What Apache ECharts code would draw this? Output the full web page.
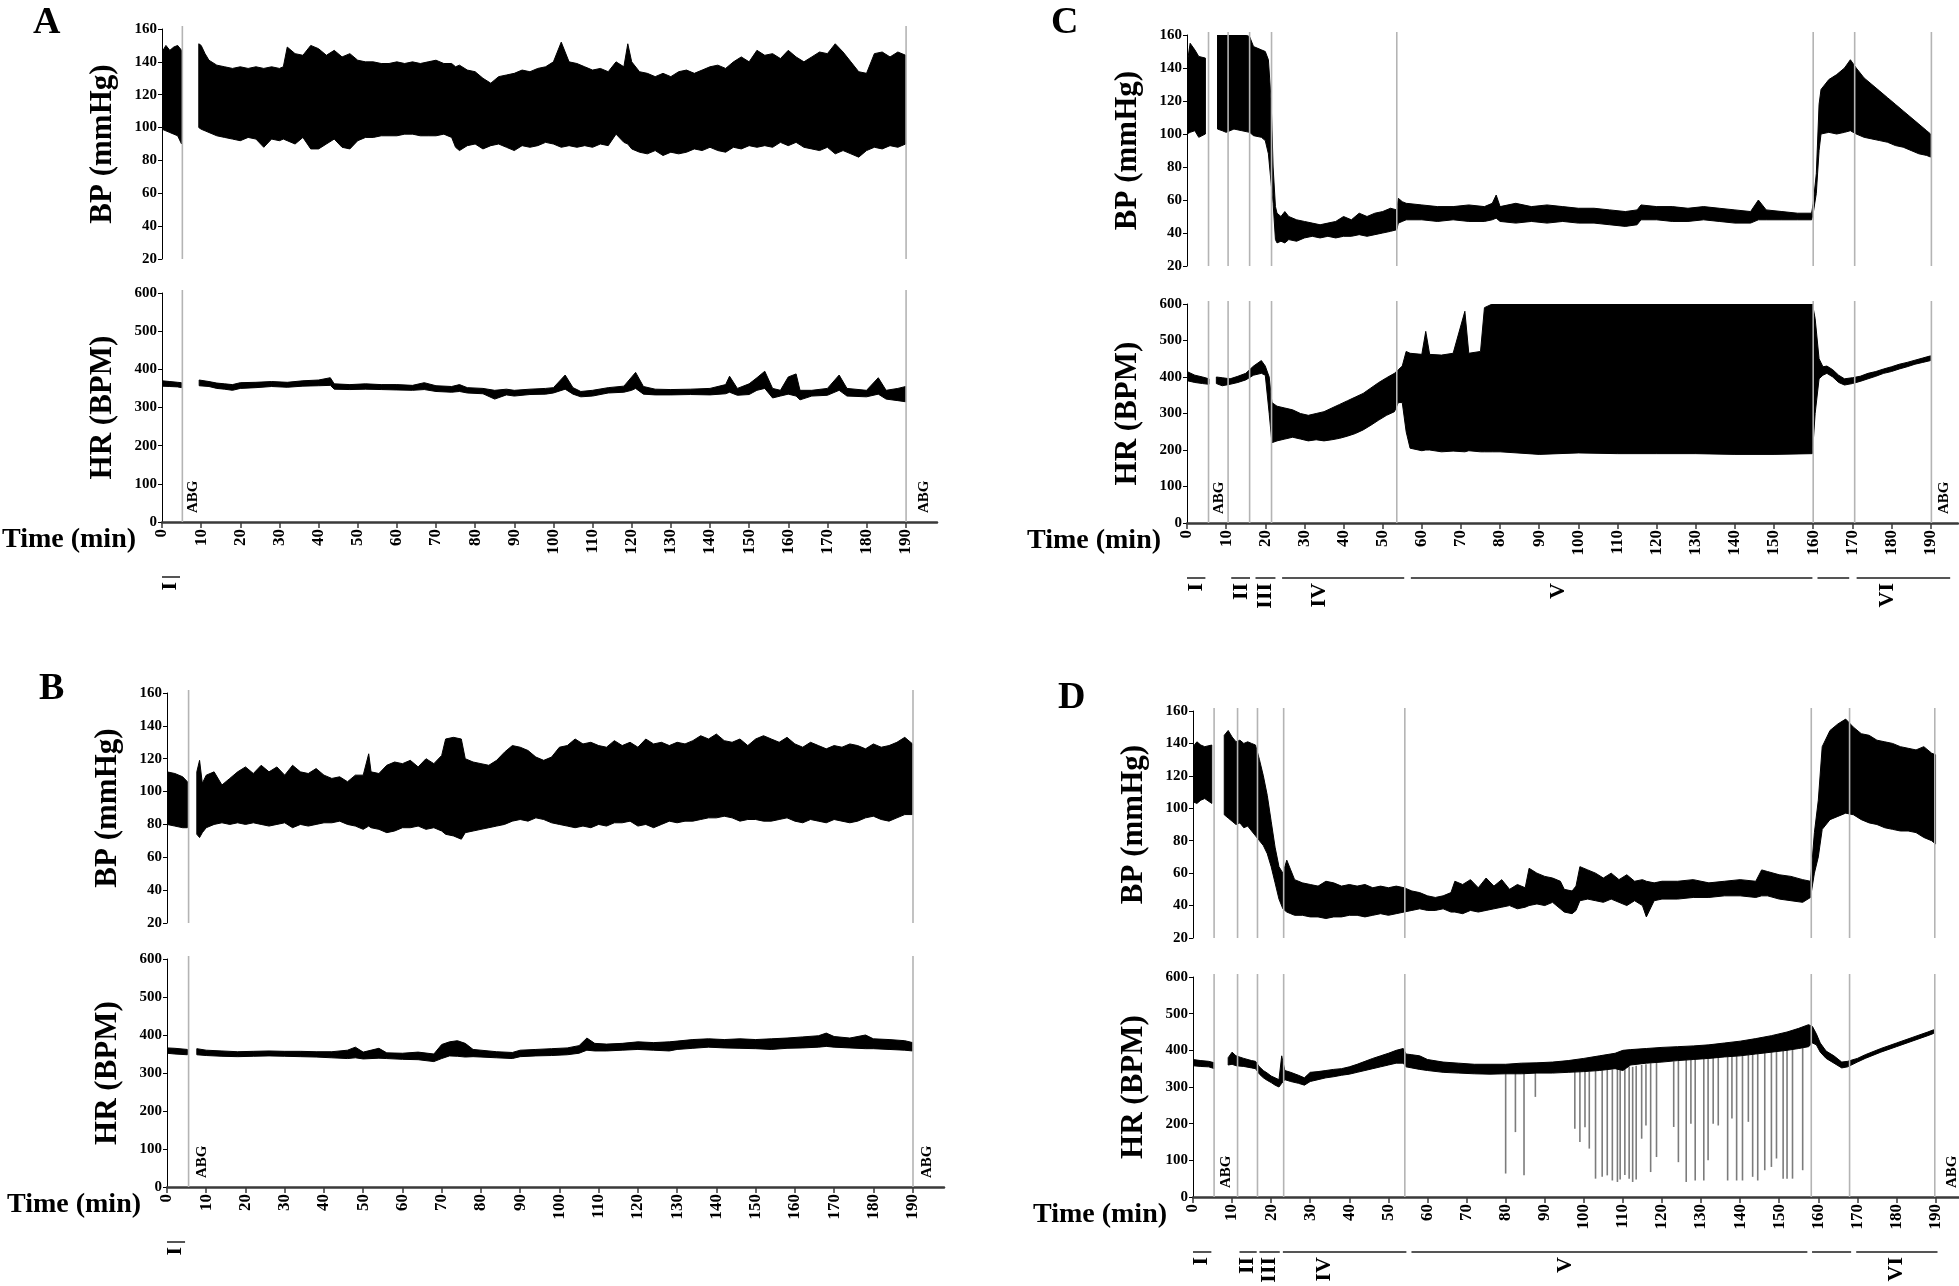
<!DOCTYPE html>
<html lang="en">
  <head>
    <meta charset="UTF-8" />
    <title>BP / HR traces</title>
    <script src="https://cdn.jsdelivr.net/npm/echarts@6/dist/echarts.min.js"></script>
    <style>
      body { margin: 0; background: #fff; }
      #main { width: 1959px; height: 1286px; }
    </style>
  </head>
  <body>
    <div id="main"></div>
    <script type="text/javascript">
      // tick labels of the time axis (min)
      const timeTicks = [0, 10, 20, 30, 40, 50, 60, 70, 80, 90, 100, 110, 120, 130, 140, 150, 160, 170, 180, 190];

      // rows are [time (min), low, high]; null = gap in the recording
      const bpA = [
        [0,99,146],[1,98,150],[2,97,147],[3,96,149],[4,95,150],[5,90,147],null,
        [9.4,100,151],[10,99,150],[11,98,145],[12,97,141],[14,95,138],[16,94,137],[18,93,136],[20,92,137],
        [22,94,136],[24,93,137],[26,88,136],[28,93,137],[30,92,136],[31,93,137],[32,92,149],[34,90,145],
        [36,94,144],[38,87,150],[40,87,148],[42,90,144],[44,93,147],[46,88,143],[48,87,145],[50,92,141],
        [52,94,140],[54,94,140],[56,95,139],[58,95,139],[60,95,140],[62,96,139],[64,96,140],[66,95,139],
        [68,95,140],[70,95,141],[72,96,139],[74,94,139],[75,88,137],[76,86,138],[78,89,135],[80,90,134],
        [82,87,130],[84,89,127],[86,90,131],[88,88,132],[90,86,133],[92,89,135],[94,88,134],[96,89,136],
        [98,91,137],[100,90,140],[102,88,152],[104,89,140],[106,88,139],[108,89,137],[110,88,135],[112,90,136],
        [114,89,134],[116,96,140],[118,91,137],[119,90,151],[120,87,140],[122,85,134],[124,84,133],[126,86,131],
        [128,83,133],[130,85,131],[132,84,134],[134,85,135],[136,87,133],[138,86,135],[140,88,137],[142,86,138],
        [144,85,136],[146,88,140],[148,87,143],[150,89,140],[152,88,147],[154,89,144],[156,88,145],[158,91,142],
        [160,89,147],[162,91,143],[164,88,140],[166,87,143],[168,86,146],[170,88,145],[172,84,151],[174,86,146],
        [176,84,140],[178,82,134],[180,86,133],[182,88,145],[184,87,146],[186,89,143],[188,88,146],[190,90,144]
      ];
      const hrA = [
        [0,356,370],[2,355,368],[4,354,366],[5,352,365],null,
        [9.5,357,372],[12,355,368],[14,350,364],[16,348,362],[18,345,360],[20,350,365],[24,352,366],[28,355,368],
        [32,353,366],[36,356,370],[40,357,372],[43,358,378],[44,348,362],[48,347,360],[52,348,362],[56,347,360],
        [60,346,360],[64,345,358],[67,347,365],[70,342,357],[74,340,355],[76,342,360],[78,338,352],[82,336,350],
        [85,322,345],[88,333,348],[90,330,345],[94,334,348],[98,335,350],[100,338,352],[103,348,385],[105,335,352],
        [107,328,342],[110,330,345],[114,338,352],[118,340,356],[120,345,380],[121,350,392],[123,335,355],[126,333,348],
        [130,333,347],[135,334,348],[140,333,350],[144,336,360],[145,340,382],[147,332,350],[150,334,362],[152,345,378],
        [154,350,395],[156,325,350],[158,330,345],[160,335,380],[162,330,388],[163,320,345],[166,330,345],[170,332,350],
        [173,345,385],[175,330,350],[180,328,345],[183,335,378],[185,322,345],[188,318,350],[190,315,355]
      ];

      const bpB = [
        [0,80,112],[2,79,111],[4,78,109],[5.2,78,106],null,
        [7.6,74,112],[8.3,72,119],[9,75,105],[10,78,110],[12,80,112],[14,81,104],[16,80,108],[18,81,112],
        [20,80,115],[22,81,111],[24,80,116],[26,79,112],[28,80,115],[30,81,110],[32,78,116],[34,80,112],
        [36,79,111],[38,80,114],[40,81,110],[42,81,108],[44,82,109],[46,80,106],[48,79,110],[50,77,110],
        [51.4,79,123],[52,78,112],[54,77,111],[56,75,116],[58,76,118],[60,78,117],[62,78,119],[64,79,115],
        [66,77,120],[68,78,117],[70,76,122],[71,74,132],[73,73,133],[75,71,132],[76,75,120],[78,76,118],
        [80,77,117],[82,78,116],[84,79,119],[86,80,124],[88,82,128],[90,83,127],[92,82,125],[94,84,121],
        [96,83,119],[98,81,121],[100,80,127],[102,79,128],[104,78,132],[106,79,129],[108,78,130],[110,80,128],
        [112,79,127],[114,81,131],[116,81,128],[118,82,130],[120,79,127],[122,80,132],[124,78,129],[126,80,130],
        [128,82,128],[130,81,130],[132,82,129],[134,82,131],[136,83,134],[138,84,132],[140,84,135],[142,85,131],
        [144,84,130],[146,82,132],[148,83,128],[150,83,132],[152,82,134],[154,82,132],[156,83,130],[158,84,133],
        [160,82,129],[162,81,127],[164,83,130],[166,82,128],[168,81,126],[170,83,128],[172,82,127],[174,81,129],
        [176,82,128],[178,84,126],[180,85,129],[182,83,127],[184,82,128],[186,84,130],[188,86,133],[190,86,129]
      ];
      const hrB = [
        [0,352,366],[2,350,365],[5.2,348,362],null,
        [7.6,348,364],[10,346,360],[14,344,358],[18,343,356],[22,344,357],[26,345,358],[30,344,357],[34,343,357],
        [38,342,356],[42,340,356],[46,338,360],[48,340,368],[50,337,355],[54,339,365],[56,338,353],[60,336,352],
        [64,335,355],[68,330,350],[70,338,375],[72,345,382],[74,344,385],[76,342,378],[78,343,362],[80,342,360],
        [84,340,356],[88,338,354],[90,343,360],[94,345,362],[98,346,364],[102,348,366],[105,352,372],[107,360,392],
        [109,358,378],[112,358,376],[116,360,378],[120,362,382],[124,360,380],[128,358,382],[130,362,384],[134,365,388],
        [138,368,390],[142,366,388],[146,365,390],[150,364,388],[154,362,390],[158,365,392],[162,366,395],[166,368,398],
        [168,370,405],[170,368,396],[174,366,392],[178,364,400],[180,364,390],[184,362,388],[188,360,385],[190,358,380]
      ];

      const bpC = [
        [0,100,142],[0.8,101,155],[2,102,151],[3,98,147],[4.7,100,146],null,
        [7.8,103,160],[9,102,161],[10,101,160],[12,103,161],[14,102,161],[16,101,159],[17,99,153],[19,98,151],
        [20,96,150],[20.8,88,145],[21.5,70,120],[22,58,80],[22.6,36,56],[23,34,52],[24,35,50],[25,34,53],
        [26,36,50],[28,35,48],[30,37,47],[32,38,46],[34,37,45],[36,38,46],[38,37,47],[40,38,50],[42,38,48],
        [44,39,52],[46,38,50],[48,39,52],[50,40,53],[52,41,55],[53.6,42,54],[54,46,61],[55,47,59],[56,48,58],
        [60,48,57],[64,47,56],[68,48,56],[72,47,57],[76,47,56],[78,48,58],[79,49,63],[80,47,56],[84,46,58],
        [88,47,56],[92,46,57],[96,47,56],[100,46,55],[104,46,55],[108,45,54],[112,44,53],[115,45,54],[116,48,57],
        [120,48,56],[124,47,56],[128,47,55],[132,48,56],[136,47,55],[140,46,54],[144,46,53],[146,48,60],[148,48,54],
        [152,48,53],[156,48,52],[159.6,48,52],[160,52,58],[160.8,64,76],[161.5,90,118],[162,100,127],[164,101,133],
        [166,100,136],[168,101,140],[169.5,102,145],[171,100,140],[173,98,134],[175,97,130],[177,96,126],[179,95,122],
        [181,93,118],[183,92,114],[185,90,110],[187,88,106],[189,87,102],[190,86,100]
      ];
      const hrC = [
        [0,390,415],[2,385,405],[4,382,400],[5.6,380,395],null,
        [7.5,382,400],[9,376,398],[11,380,395],[13,385,402],[15,392,410],[17,405,430],[19,410,445],[20,405,430],
        [21,300,400],[21.7,220,330],[23,225,320],[25,230,315],[27,235,310],[29,230,300],[31,225,295],[33,228,300],
        [35,225,305],[37,228,315],[39,232,325],[41,238,335],[43,245,345],[45,255,355],[47,268,370],[49,282,385],
        [51,295,398],[53,305,410],[54,330,420],[55,330,430],[56,250,470],[57,205,465],[60,198,462],[61,200,525],
        [62,200,462],[65,195,460],[68,197,465],[71,195,580],[72,198,465],[75,195,470],[76,195,590],[78,195,600],
        [80,195,600],[90,188,600],[100,192,600],[110,190,600],[120,190,600],[130,190,600],[140,188,600],[150,188,600],
        [159.8,190,600],[160.5,300,560],[161.5,395,450],[162.5,405,428],[163.5,410,430],[165,400,420],[166.5,385,405],
        [168,378,395],[170,382,398],[172,388,402],[174,395,410],[176,402,415],[178,410,422],[180,415,428],
        [182,422,435],[184,428,440],[186,435,446],[188,440,452],[190,445,458]
      ];

      const bpD = [
        [0,104,138],[1,103,141],[2,105,139],[3,106,138],[4.8,103,139],null,
        [8,96,145],[9,94,148],[10,92,144],[11,90,141],[12,91,142],[13,88,140],[14,89,141],[15,86,140],[16,83,139],
        [17,80,130],[18,77,120],[19,72,108],[20,64,92],[21,54,76],[22,44,64],[23,38,60],[24,36,68],[25,35,62],
        [26,34,56],[28,34,54],[30,33,53],[32,33,52],[34,32,55],[36,33,54],[38,33,52],[40,34,53],[42,34,52],
        [44,33,53],[46,34,51],[48,35,52],[50,34,51],[52,35,52],[54,36,51],[56,37,49],[58,38,48],[60,37,46],
        [62,37,45],[64,38,46],[66,36,48],[67,36,55],[69,35,53],[71,37,56],[73,36,51],[75,37,57],[77,38,52],
        [79,39,56],[81,40,50],[83,38,53],[85,39,51],[86,40,63],[88,41,60],[90,40,58],[92,42,57],[94,38,55],
        [95,36,50],[97,35,49],[98,37,52],[99,43,64],[101,44,62],[103,43,60],[105,42,57],[107,44,60],[109,42,56],
        [111,40,59],[113,43,55],[115,40,56],[116,33,55],[118,43,54],[120,44,55],[124,44,55],[128,45,56],
        [132,45,54],[136,46,55],[140,46,56],[144,45,55],[145.5,46,62],[147,46,61],[150,44,59],[153,43,58],
        [156,42,56],[158,45,55],[159,60,85],[160,70,105],[161,87,138],[163,93,148],[165,95,152],[167,97,155],
        [169,96,150],[171,93,146],[173,91,145],[175,90,142],[177,88,141],[179,87,140],[181,86,138],[183,86,137],
        [185,85,136],[187,82,138],[189,80,134],[190,78,133]
      ];
      const hrD = [
        [0,358,375],[2,356,372],[4,355,370],[5.5,350,366],null,
        [9,360,380],[10,362,395],[11,358,385],[13,356,378],[15,352,372],[16,350,370],[17,335,355],[18,325,345],
        [19,318,338],[20,312,330],[21,305,325],[22,300,320],[22.7,310,385],[23.5,320,345],[25,315,340],[27,310,332],
        [28.5,305,325],[30,315,340],[32,320,342],[34,325,345],[36,328,348],[38,332,350],[40,335,355],[42,340,362],
        [44,345,370],[46,350,378],[48,355,385],[50,360,392],[52,365,400],[53.8,365,405],[54.5,355,390],[56,352,388],
        [58,348,385],[60,345,375],[64,340,368],[68,338,365],[72,336,362],[76,335,362],[80,336,362],[84,336,365],
        [88,338,366],[92,338,368],[96,340,372],[100,342,378],[104,345,385],[108,350,392],[110,345,400],[112,360,402],
        [116,365,405],[120,368,408],[124,372,410],[128,375,412],[132,378,415],[136,382,420],[140,385,425],
        [144,390,432],[148,395,440],[152,400,450],[155,405,460],[157.5,410,470],[158.5,420,465],[159.5,415,445],
        [160.5,395,420],[162,378,398],[164,365,385],[166,352,368],[167.5,355,370],[170,368,378],[172,378,388],
        [176,395,405],[180,410,420],[184,425,435],[188,440,450],[189.5,446,456]
      ];
      // dropped-beat spikes in D: [time, from, down to]
      const spikesD = [
        [80,340,64],[82.5,340,177],[84.7,340,59],[87.6,338,273],[97.7,342,186],[99,342,150],[100.3,342,190],
        [101.4,342,132],[103,345,50],[104.7,345,55],[106,348,59],[107.3,348,45],[108.6,350,41],[109.3,350,48],
        [110.5,350,60],[111.6,355,50],[112.5,355,41],[113.4,358,48],[114.8,360,159],[115.9,362,195],[117.1,365,68],
        [118.6,366,109],[123,370,191],[124.2,372,95],[126.2,374,41],[127.4,375,200],[128.5,376,45],[130.7,378,45],
        [131.8,380,100],[133.1,380,200],[134.4,382,195],[136.8,383,45],[137.9,384,214],[139.1,385,45],[140.6,386,45],
        [142.1,388,205],[143.2,390,55],[144.5,392,45],[146.3,394,73],[148,396,82],[149.3,398,105],[151,400,50],
        [152,402,50],[153.4,404,50],[156,408,73]
      ];

      // grey event markers (min)
      const marksA = [5.2, 190.1];
      const marksB = [5.5, 190.1];
      const marksC = [5.5, 10.5, 16, 21.6, 53.6, 160, 170.6, 190.2];
      const marksD = [5.4, 11.4, 16.5, 23.2, 54.2, 158.2, 168, 189.8];
      // ABG sampling times
      const abgA = [8.0, 194.7];
      const abgB = [8.9, 193.6];
      const abgC = [8.3, 193.5];
      const abgD = [8.4, 194.2];
      // phases: [start, end, label, label time]
      const phasesAB = [[0, 4.6, "I", 2.2]];
      const phasesC = [[0,4.7,"I",2.3],[11.3,16.1,"II",13.9],[17.5,22.6,"III",19.9],[24.3,55.5,"IV",33.9],[57.2,159.8,"V",95],[161.1,169.2,"",165],[171.1,195,"VI",179]];
      const phasesD = [[0,4.7,"I",2.2],[11.9,16.3,"II",13.9],[17,22.2,"III",19.4],[23,54.6,"IV",33.5],[55.9,157.2,"V",95.3],[158.4,168.4,"",163],[169.7,190.5,"VI",179.9]];

      const FONT = '"Liberation Serif", "DejaVu Serif", serif';

      const panels = [
        { letter: "A", lx: 51, ly: 24, left: 162, width: 775, xMax: 198, bpTop: 29, bpH: 230, hrTop: 293, hrH: 229,
          bp: bpA, hr: hrA, marks: marksA, abg: abgA, phases: phasesAB },
        { letter: "B", lx: 57, ly: 690, left: 167, width: 777, xMax: 198, bpTop: 693, bpH: 230, hrTop: 959, hrH: 228,
          bp: bpB, hr: hrB, marks: marksB, abg: abgB, phases: phasesAB },
        { letter: "C", lx: 1069, ly: 24, left: 1187, width: 771, xMax: 197, bpTop: 35, bpH: 231, hrTop: 304, hrH: 219,
          bp: bpC, hr: hrC, marks: marksC, abg: abgC, phases: phasesC },
        { letter: "D", lx: 1076, ly: 699, left: 1193, width: 766, xMax: 196, bpTop: 711, bpH: 227, hrTop: 977, hrH: 220,
          bp: bpD, hr: hrD, marks: marksD, abg: abgD, phases: phasesD, spikes: spikesD }
      ];

      const labelStyle = { fontSize: 15, fontWeight: "bold", fontFamily: FONT, color: "#000" };
      const nameStyle = { fontSize: 31, fontWeight: "bold", fontFamily: FONT, color: "#000" };

      // filled band between low and high, one polygon per unbroken stretch
      function bandSeries(idx, rows) {
        const segs = [];
        let cur = [];
        rows.forEach(function (r) {
          if (r === null) { if (cur.length) segs.push(cur); cur = []; }
          else cur.push(r);
        });
        if (cur.length) segs.push(cur);
        return {
          type: "custom", xAxisIndex: idx, yAxisIndex: idx, silent: true, clip: true, z: 3,
          data: segs.map(function (s, i) { return [s[0][0], s[0][1], i]; }),
          renderItem: function (params, api) {
            const s = segs[api.value(2)];
            const top = s.map(function (r) { return api.coord([r[0], r[2]]); });
            const bot = s.map(function (r) { return api.coord([r[0], r[1]]); }).reverse();
            return { type: "polygon", shape: { points: top.concat(bot) },
                     style: { fill: "#000", stroke: "#000", lineWidth: 1 } };
          }
        };
      }

      function markSeries(idx, marks, lo, hi) {
        return {
          type: "custom", xAxisIndex: idx, yAxisIndex: idx, silent: true, clip: false, z: 5,
          data: marks.map(function (t) { return [t, lo]; }),
          renderItem: function (params, api) {
            const a = api.coord([api.value(0), lo]);
            const b = api.coord([api.value(0), hi]);
            return { type: "line", shape: { x1: a[0], y1: a[1], x2: b[0], y2: b[1] - 3 },
                     style: { stroke: "#b4b4b4", lineWidth: 1.6 } };
          }
        };
      }

      function spikeSeries(idx, rows) {
        return {
          type: "custom", xAxisIndex: idx, yAxisIndex: idx, silent: true, clip: true, z: 2,
          data: rows,
          renderItem: function (params, api) {
            const a = api.coord([api.value(0), api.value(1)]);
            const b = api.coord([api.value(0), api.value(2)]);
            return { type: "line", shape: { x1: a[0], y1: a[1], x2: b[0], y2: b[1] },
                     style: { stroke: "#7c7c7c", lineWidth: 1.6 } };
          }
        };
      }

      function abgSeries(idx, times) {
        return {
          type: "custom", xAxisIndex: idx, yAxisIndex: idx, silent: true, clip: false, z: 6,
          data: times.map(function (t) { return [t, 0]; }),
          renderItem: function (params, api) {
            const p = api.coord([api.value(0), 0]);
            return { type: "text", x: p[0], y: p[1] - 9, rotation: Math.PI / 2,
                     style: { text: "ABG", fontSize: 15, fontWeight: "bold", fontFamily: FONT,
                              fill: "#000", align: "left", verticalAlign: "middle" } };
          }
        };
      }

      function phaseSeries(idx, phases) {
        return {
          type: "custom", xAxisIndex: idx, yAxisIndex: idx, silent: true, clip: false, z: 6,
          data: phases.map(function (r, i) { return [r[0], 0, i]; }),
          renderItem: function (params, api) {
            const r = phases[api.value(2)];
            const a = api.coord([r[0], 0]);
            const b = api.coord([r[1], 0]);
            const m = api.coord([r[3], 0]);
            const y = a[1] + 55;
            return { type: "group", children: [
              { type: "line", shape: { x1: a[0], y1: y, x2: b[0], y2: y },
                style: { stroke: "#555", lineWidth: 2 } },
              { type: "text", x: m[0], y: y + 5, rotation: Math.PI / 2,
                style: { text: r[2], fontSize: 22, fontWeight: "bold", fontFamily: FONT,
                         fill: "#000", align: "right", verticalAlign: "middle" } }
            ] };
          }
        };
      }

      const grid = [], xAxis = [], yAxis = [], series = [], graphic = [];

      panels.forEach(function (p, k) {
        const bi = 2 * k, hi = 2 * k + 1;
        grid.push({ left: p.left, top: p.bpTop, width: p.width, height: p.bpH, outerBoundsMode: "none" });
        grid.push({ left: p.left, top: p.hrTop, width: p.width, height: p.hrH, outerBoundsMode: "none" });

        xAxis.push({ gridIndex: bi, type: "value", min: 0, max: p.xMax, show: false });
        xAxis.push({
          gridIndex: hi, type: "value", min: 0, max: p.xMax,
          axisLine: { show: true, onZero: false, lineStyle: { color: "#3a3a3a", width: 2.5 } },
          axisTick: { show: true, customValues: timeTicks, length: 6, lineStyle: { color: "#3a3a3a", width: 1.5 } },
          axisLabel: Object.assign({ customValues: timeTicks, rotate: 90, margin: 7 }, labelStyle, { fontSize: 17 }),
          splitLine: { show: false }
        });

        yAxis.push({
          gridIndex: bi, type: "value", min: 20, max: 160, interval: 20,
          name: "BP (mmHg)", nameLocation: "middle", nameRotate: 90, nameGap: 44, nameTextStyle: nameStyle,
          axisLine: { show: true, onZero: false, lineStyle: { color: "#000", width: 1 } },
          axisTick: { show: true, length: 4, lineStyle: { color: "#000" } },
          axisLabel: Object.assign({ margin: 5 }, labelStyle),
          splitLine: { show: false }
        });
        yAxis.push({
          gridIndex: hi, type: "value", min: 0, max: 600, interval: 100,
          name: "HR (BPM)", nameLocation: "middle", nameRotate: 90, nameGap: 44, nameTextStyle: nameStyle,
          axisLine: { show: true, onZero: false, lineStyle: { color: "#000", width: 1 } },
          axisTick: { show: true, length: 4, lineStyle: { color: "#000" } },
          axisLabel: Object.assign({ margin: 5 }, labelStyle),
          splitLine: { show: false }
        });

        if (p.spikes) series.push(spikeSeries(hi, p.spikes));
        series.push(bandSeries(bi, p.bp));
        series.push(bandSeries(hi, p.hr));
        series.push(markSeries(bi, p.marks, 20, 160));
        series.push(markSeries(hi, p.marks, 0, 600));
        series.push(abgSeries(hi, p.abg));
        series.push(phaseSeries(hi, p.phases));

        graphic.push({ type: "text", left: p.lx - 18, top: p.ly - 20,
          style: { text: p.letter, fontSize: 38, fontWeight: "bold", fontFamily: FONT, fill: "#000" } });
        graphic.push({ type: "text", left: p.left - 160, top: p.hrTop + p.hrH + 4,
          style: { text: "Time (min)", fontSize: 28, fontWeight: "bold", fontFamily: FONT, fill: "#000" } });
      });

      const chart = echarts.init(document.getElementById("main"));
      chart.setOption({
        animation: false,
        backgroundColor: "#fff",
        grid: grid,
        xAxis: xAxis,
        yAxis: yAxis,
        series: series,
        graphic: graphic
      });
    </script>
  </body>
</html>
